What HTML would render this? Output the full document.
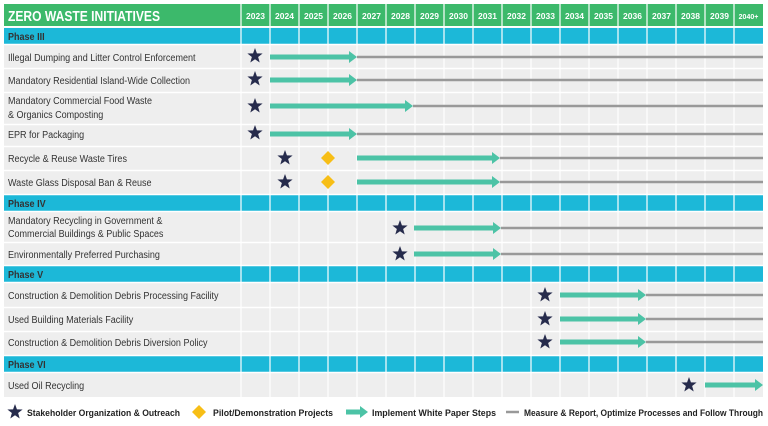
<!DOCTYPE html>
<html><head><meta charset="utf-8"><style>
html,body{margin:0;padding:0;background:#fff;}
svg{display:block;font-family:"Liberation Sans",Arial,sans-serif;}
.l{font-size:10.5px;fill:#333;}
.y{font-size:8.5px;fill:#fff;font-weight:bold;}
.p{font-size:10.5px;fill:#333;font-weight:bold;}
.g{font-size:9.5px;fill:#222;font-weight:bold;}
</style></head><body>
<svg width="768" height="426" viewBox="0 0 768 426" xmlns="http://www.w3.org/2000/svg">
<defs>
<polygon id="st" fill="#262b4c" points="0,-8 1.94,-2.67 7.61,-2.47 3.14,1.02 4.7,6.47 0,3.3 -4.7,6.47 -3.14,1.02 -7.61,-2.47 -1.94,-2.67"/>
<polygon id="dm" fill="#f7be16" points="0,-7 7,0 0,7 -7,0"/>
</defs>
<rect x="4" y="4" width="759" height="22" fill="#3cb96b"/>
<rect x="4" y="27" width="759" height="370" fill="#eeeeee"/>
<rect x="4" y="28" width="759" height="16" fill="#1cb8d8"/>
<rect x="4" y="195" width="759" height="16" fill="#1cb8d8"/>
<rect x="4" y="266" width="759" height="16" fill="#1cb8d8"/>
<rect x="4" y="356" width="759" height="16" fill="#1cb8d8"/>
<g stroke="#fff" stroke-width="1.2">
<line x1="241" y1="4" x2="241" y2="397"/><line x1="270" y1="4" x2="270" y2="397"/><line x1="299" y1="4" x2="299" y2="397"/><line x1="328" y1="4" x2="328" y2="397"/><line x1="357" y1="4" x2="357" y2="397"/><line x1="386" y1="4" x2="386" y2="397"/><line x1="415" y1="4" x2="415" y2="397"/><line x1="444" y1="4" x2="444" y2="397"/><line x1="473" y1="4" x2="473" y2="397"/><line x1="502" y1="4" x2="502" y2="397"/><line x1="531" y1="4" x2="531" y2="397"/><line x1="560" y1="4" x2="560" y2="397"/><line x1="589" y1="4" x2="589" y2="397"/><line x1="618" y1="4" x2="618" y2="397"/><line x1="647" y1="4" x2="647" y2="397"/><line x1="676" y1="4" x2="676" y2="397"/><line x1="705" y1="4" x2="705" y2="397"/><line x1="734" y1="4" x2="734" y2="397"/>
</g>
<g stroke="#fff" stroke-width="1.5">
<line x1="4" y1="27" x2="763" y2="27"/><line x1="4" y1="44.5" x2="763" y2="44.5"/><line x1="4" y1="68.5" x2="763" y2="68.5"/><line x1="4" y1="92.5" x2="763" y2="92.5"/><line x1="4" y1="124.5" x2="763" y2="124.5"/><line x1="4" y1="146.5" x2="763" y2="146.5"/><line x1="4" y1="170.5" x2="763" y2="170.5"/><line x1="4" y1="194.5" x2="763" y2="194.5"/><line x1="4" y1="211.5" x2="763" y2="211.5"/><line x1="4" y1="242.5" x2="763" y2="242.5"/><line x1="4" y1="265.5" x2="763" y2="265.5"/><line x1="4" y1="282.5" x2="763" y2="282.5"/><line x1="4" y1="307.5" x2="763" y2="307.5"/><line x1="4" y1="331.5" x2="763" y2="331.5"/><line x1="4" y1="355.5" x2="763" y2="355.5"/><line x1="4" y1="372.5" x2="763" y2="372.5"/>
</g>
<text x="8" y="21" font-size="14.5" font-weight="bold" fill="#fff" textLength="152" lengthAdjust="spacingAndGlyphs">ZERO WASTE INITIATIVES</text>
<g class="y" text-anchor="middle">
<text x="255.5" y="19">2023</text><text x="284.5" y="19">2024</text><text x="313.5" y="19">2025</text><text x="342.5" y="19">2026</text><text x="371.5" y="19">2027</text><text x="400.5" y="19">2028</text><text x="429.5" y="19">2029</text><text x="458.5" y="19">2030</text><text x="487.5" y="19">2031</text><text x="516.5" y="19">2032</text><text x="545.5" y="19">2033</text><text x="574.5" y="19">2034</text><text x="603.5" y="19">2035</text><text x="632.5" y="19">2036</text><text x="661.5" y="19">2037</text><text x="690.5" y="19">2038</text><text x="719.5" y="19">2039</text><text x="748.5" y="19" font-size="7">2040+</text>
</g>
<g transform="scale(0.86,1)">
<text class="p" x="9.3" y="40">Phase III</text>
<text class="p" x="9.3" y="207">Phase IV</text>
<text class="p" x="9.3" y="278">Phase V</text>
<text class="p" x="9.3" y="368">Phase VI</text>
<g class="l">
<text x="9.3" y="61">Illegal Dumping and Litter Control Enforcement</text>
<text x="9.3" y="84">Mandatory Residential Island-Wide Collection</text>
<text x="9.3" y="104">Mandatory Commercial Food Waste</text>
<text x="9.3" y="118">&amp; Organics Composting</text>
<text x="9.3" y="138">EPR for Packaging</text>
<text x="9.3" y="162">Recycle &amp; Reuse Waste Tires</text>
<text x="9.3" y="186">Waste Glass Disposal Ban &amp; Reuse</text>
<text x="9.3" y="224">Mandatory Recycling in Government &amp;</text>
<text x="9.3" y="237">Commercial Buildings &amp; Public Spaces</text>
<text x="9.3" y="258">Environmentally Preferred Purchasing</text>
<text x="9.3" y="299">Construction &amp; Demolition Debris Processing Facility</text>
<text x="9.3" y="323">Used Building Materials Facility</text>
<text x="9.3" y="346">Construction &amp; Demolition Debris Diversion Policy</text>
<text x="9.3" y="389">Used Oil Recycling</text>
</g>
</g>
<g stroke="#999" stroke-width="2.5">
<line x1="357" y1="57" x2="763" y2="57"/>
<line x1="357" y1="80" x2="763" y2="80"/>
<line x1="413" y1="106" x2="763" y2="106"/>
<line x1="357" y1="134" x2="763" y2="134"/>
<line x1="500" y1="158" x2="763" y2="158"/>
<line x1="500" y1="182" x2="763" y2="182"/>
<line x1="501" y1="228" x2="763" y2="228"/>
<line x1="501" y1="254" x2="763" y2="254"/>
<line x1="646" y1="295" x2="763" y2="295"/>
<line x1="646" y1="319" x2="763" y2="319"/>
<line x1="646" y1="342" x2="763" y2="342"/>
</g>
<g fill="#4cc3a6">
<path d="M270,54.5H349V51L357,57L349,63V59.5H270Z"/>
<path d="M270,77.5H349V74L357,80L349,86V82.5H270Z"/>
<path d="M270,103.5H405V100L413,106L405,112V108.5H270Z"/>
<path d="M270,131.5H349V128L357,134L349,140V136.5H270Z"/>
<path d="M357,155.5H492V152L500,158L492,164V160.5H357Z"/>
<path d="M357,179.5H492V176L500,182L492,188V184.5H357Z"/>
<path d="M414,225.5H493V222L501,228L493,234V230.5H414Z"/>
<path d="M414,251.5H493V248L501,254L493,260V256.5H414Z"/>
<path d="M560,292.5H638V289L646,295L638,301V297.5H560Z"/>
<path d="M560,316.5H638V313L646,319L638,325V321.5H560Z"/>
<path d="M560,339.5H638V336L646,342L638,348V344.5H560Z"/>
<path d="M705,382.5H755V379L763,385L755,391V387.5H705Z"/>
</g>
<use href="#st" x="255" y="56"/>
<use href="#st" x="255" y="79"/>
<use href="#st" x="255" y="106"/>
<use href="#st" x="255" y="133"/>
<use href="#st" x="285" y="158"/>
<use href="#st" x="285" y="182"/>
<use href="#dm" x="328" y="158"/>
<use href="#dm" x="328" y="182"/>
<use href="#st" x="400" y="228"/>
<use href="#st" x="400" y="254"/>
<use href="#st" x="545" y="295"/>
<use href="#st" x="545" y="319"/>
<use href="#st" x="545" y="342"/>
<use href="#st" x="689" y="385"/>
<use href="#st" x="15" y="412"/>
<text class="g" x="27" y="416" textLength="153" lengthAdjust="spacingAndGlyphs">Stakeholder Organization &amp; Outreach</text>
<use href="#dm" x="199" y="412"/>
<text class="g" x="213" y="416" textLength="120" lengthAdjust="spacingAndGlyphs">Pilot/Demonstration Projects</text>
<path fill="#4cc3a6" d="M346,409.5H360V406L368,412L360,418V414.5H346Z"/>
<text class="g" x="372" y="416" textLength="124" lengthAdjust="spacingAndGlyphs">Implement White Paper Steps</text>
<line x1="506" y1="412" x2="519" y2="412" stroke="#999" stroke-width="2.5"/>
<text class="g" x="524" y="416" textLength="239" lengthAdjust="spacingAndGlyphs">Measure &amp; Report, Optimize Processes and Follow Through</text>
</svg>
</body></html>
